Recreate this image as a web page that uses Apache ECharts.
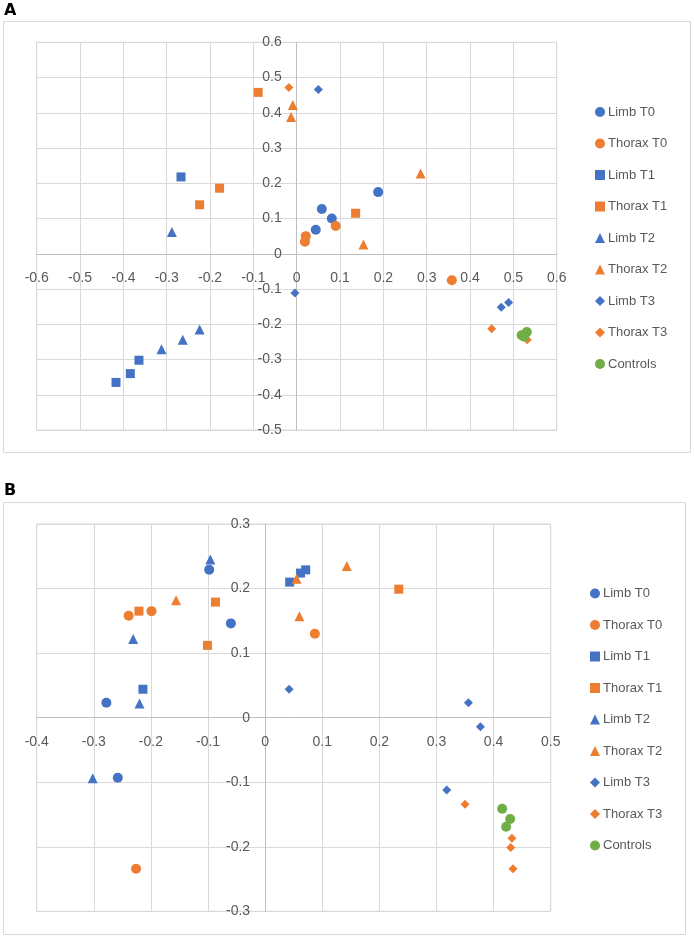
<!DOCTYPE html>
<html>
<head>
<meta charset="utf-8">
<script src="https://cdn.jsdelivr.net/npm/echarts@6/dist/echarts.min.js"></script>
<style>
html,body{margin:0;padding:0;background:#fff;}
#chart{width:694px;height:937px;}
</style>
</head>
<body>
<div id="chart"></div>
<script>
// Series names (legend order)
var seriesNames = ['Limb T0','Thorax T0','Limb T1','Thorax T1','Limb T2','Thorax T2','Limb T3','Thorax T3','Controls'];

// Panel A data [x, y]
var limbT0_A   = [[0.058,0.127],[0.081,0.100],[0.188,0.175],[0.044,0.068]];
var thoraxT0_A = [[0.090,0.079],[0.021,0.050],[0.019,0.034],[0.358,-0.075]];
var limbT1_A   = [[-0.267,0.218],[-0.364,-0.302],[-0.384,-0.340],[-0.417,-0.365]];
var thoraxT1_A = [[-0.089,0.458],[-0.178,0.186],[-0.224,0.139],[0.136,0.115]];
var limbT2_A   = [[-0.288,0.062],[-0.224,-0.215],[-0.263,-0.244],[-0.312,-0.271]];
var thoraxT2_A = [[-0.009,0.422],[-0.013,0.388],[0.286,0.228],[0.154,0.026]];
var limbT3_A   = [[0.050,0.466],[-0.004,-0.111],[0.489,-0.138],[0.472,-0.152]];
var thoraxT3_A = [[-0.018,0.472],[0.450,-0.213],[0.532,-0.244]];
var controls_A = [[0.519,-0.231],[0.531,-0.222],[0.525,-0.235]];

// Panel B data [x, y]
var limbT0_B   = [[-0.098,0.229],[-0.060,0.146],[-0.278,0.023],[-0.258,-0.093]];
var thoraxT0_B = [[-0.199,0.165],[-0.239,0.158],[0.087,0.130],[-0.226,-0.234]];
var limbT1_B   = [[0.043,0.210],[0.062,0.224],[0.071,0.229],[-0.214,0.044]];
var thoraxT1_B = [[-0.087,0.179],[-0.221,0.165],[-0.101,0.112],[0.234,0.199]];
var limbT2_B   = [[-0.096,0.245],[-0.231,0.122],[-0.220,0.022],[-0.302,-0.094]];
var thoraxT2_B = [[-0.156,0.182],[0.055,0.215],[0.060,0.157],[0.143,0.235]];
var limbT3_B   = [[0.042,0.044],[0.356,0.023],[0.377,-0.014],[0.318,-0.112]];
var thoraxT3_B = [[0.350,-0.134],[0.432,-0.187],[0.430,-0.201],[0.434,-0.234]];
var controls_B = [[0.415,-0.141],[0.429,-0.157],[0.422,-0.169]];

// Axis ranges
var axisA = {xMin:-0.6, xMax:0.6, yMin:-0.5, yMax:0.6, interval:0.1};
var axisB = {xMin:-0.4, xMax:0.5, yMin:-0.3, yMax:0.3, interval:0.1};

var dataA = [limbT0_A, thoraxT0_A, limbT1_A, thoraxT1_A, limbT2_A, thoraxT2_A, limbT3_A, thoraxT3_A, controls_A];
var dataB = [limbT0_B, thoraxT0_B, limbT1_B, thoraxT1_B, limbT2_B, thoraxT2_B, limbT3_B, thoraxT3_B, controls_B];

var BLUE = '#4472C4', ORANGE = '#ED7D31', GREEN = '#70AD47';
var colors  = [BLUE, ORANGE, BLUE, ORANGE, BLUE, ORANGE, BLUE, ORANGE, GREEN];
var symbols = ['circle','circle','rect','rect','triangle','triangle','diamond','diamond','circle'];
var sizes   = [10, 10, 9, 9, 10, 10, 9, 9, 10];

var FONT = 'Liberation Sans';
var TXT = '#595959';

var gridA = {left:36.7, top:42.3, width:520, height:387.7};
var gridB = {left:36.7, top:524, width:514, height:387.3};

function fmt(v){ return (Math.round(v*10)/10).toString(); }

// Place each axis so it crosses the other axis at value 0
function xAxisCfg(idx, r, g){
  var off = -g.height * (0 - r.yMin) / (r.yMax - r.yMin);
  return {
    type:'value', gridIndex:idx, min:r.xMin, max:r.xMax, interval:r.interval,
    position:'bottom', offset:off,
    axisLine:{show:true, onZero:false, lineStyle:{color:'#bfbfbf', width:1}},
    axisTick:{show:false},
    axisLabel:{color:TXT, fontFamily:FONT, fontSize:14, margin:17, formatter:fmt, showMinLabel:true, showMaxLabel:true},
    splitLine:{show:true, lineStyle:{color:'#d9d9d9', width:1}}
  };
}
function yAxisCfg(idx, r, g){
  var off = -g.width * (0 - r.xMin) / (r.xMax - r.xMin);
  return {
    type:'value', gridIndex:idx, min:r.yMin, max:r.yMax, interval:r.interval,
    position:'left', offset:off,
    axisLine:{show:true, onZero:false, lineStyle:{color:'#bfbfbf', width:1}},
    axisTick:{show:false},
    axisLabel:{color:TXT, fontFamily:FONT, fontSize:14, margin:15, formatter:fmt, showMinLabel:true, showMaxLabel:true},
    splitLine:{show:true, lineStyle:{color:'#d9d9d9', width:1}}
  };
}

var series = [];
[dataA, dataB].forEach(function(set, gi){
  set.forEach(function(d, i){
    series.push({
      name: seriesNames[i], type:'scatter', xAxisIndex:gi, yAxisIndex:gi,
      data:d, symbol:symbols[i], symbolSize:sizes[i],
      itemStyle:{color:colors[i], opacity:1}, z: 2 + i
    });
  });
});

function legendCfg(left, top){
  return {
    orient:'vertical', left:left, top:top, data:seriesNames,
    itemWidth:10, itemHeight:10, itemGap:17.5,
    textStyle:{color:TXT, fontFamily:FONT, fontSize:13, lineHeight:14, padding:[0,0,0,-2]},
    selectedMode:false
  };
}

var option = {
  animation:false,
  backgroundColor:'#fff',
  graphic:[
    {type:'rect', shape:{x:3.5, y:21.5, width:687, height:431}, style:{fill:'none', stroke:'#d9d9d9', lineWidth:1}, z:-1},
    {type:'rect', shape:{x:3.5, y:502.5, width:682, height:432}, style:{fill:'none', stroke:'#d9d9d9', lineWidth:1}, z:-1},
    {type:'text', left:4, top:3, style:{text:'A', font:'bold 16px "DejaVu Sans"', fill:'#000'}},
    {type:'text', left:4, top:483, style:{text:'B', font:'bold 16px "DejaVu Sans"', fill:'#000'}}
  ],
  grid:[
    {left:gridA.left, top:gridA.top, width:gridA.width, height:gridA.height, show:true, borderColor:'#d9d9d9', borderWidth:1},
    {left:gridB.left, top:gridB.top, width:gridB.width, height:gridB.height, show:true, borderColor:'#d9d9d9', borderWidth:1}
  ],
  xAxis:[xAxisCfg(0, axisA, gridA), xAxisCfg(1, axisB, gridB)],
  yAxis:[yAxisCfg(0, axisA, gridA), yAxisCfg(1, axisB, gridB)],
  legend:[legendCfg(590, 100), legendCfg(585, 581.5)],
  series:series
};

var chart = echarts.init(document.getElementById('chart'), null, {renderer:'canvas'});
chart.setOption(option);
</script>
</body>
</html>
